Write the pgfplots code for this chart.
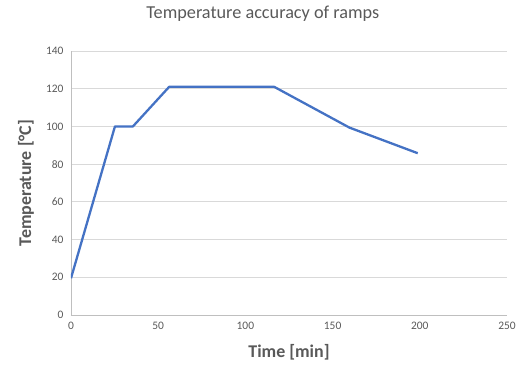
\documentclass[border=0pt]{standalone}
\usepackage{pgfplots}
\pgfplotsset{compat=1.18}
\usepackage{fontspec}
\setmainfont{Carlito}
\definecolor{txtc}{RGB}{89,89,89}
\definecolor{axlc}{RGB}{191,191,191}
\definecolor{linec}{RGB}{68,114,196}
\begin{document}
\begin{tikzpicture}
\useasboundingbox (-71bp,-65bp) rectangle (459bp,315bp);
\begin{axis}[
  at={(0,0)}, anchor=south west,
  scale only axis, width=436bp, height=264bp,
  xmin=0, xmax=250, ymin=0, ymax=140,
  xtick={0,50,...,250}, ytick={0,20,...,140},
  axis x line*=bottom, axis y line*=left,
  axis line style={axlc, line width=0.8bp, -},
  xmajorgrids=false, ymajorgrids=true,
  y grid style={black!15, line width=0.8bp},
  xtick style={draw=none}, ytick style={draw=none},
  ticklabel style={font=\fontsize{11.5}{12}\selectfont, text=txtc},
  /pgf/number format/assume math mode=true,
  xticklabel style={yshift=-4bp},
  yticklabel style={xshift=-4bp},
  title={Temperature accuracy of ramps},
  title style={font=\fontsize{18.3}{20}\selectfont, text=txtc, at={(axis description cs:0.44,1.1174)}, anchor=center},
  xlabel={\textbf{Time [min]}},
  xlabel style={font=\fontsize{18}{20}\selectfont, text=txtc, at={(axis description cs:0.5,-0.1402)}, anchor=center},
  ylabel={\textbf{Temperature [°C]}},
  ylabel style={font=\fontsize{18}{20}\selectfont, text=txtc, at={(axis description cs:-0.103,0.5)}, anchor=center},
]
\addplot[linec, line width=2.3bp, line join=round] coordinates {
(0,19.5) (25.2,100) (35.5,100) (56.3,121) (116.5,121) (159.6,99.4) (198.8,85.8)
};
\end{axis}
\end{tikzpicture}
\end{document}
